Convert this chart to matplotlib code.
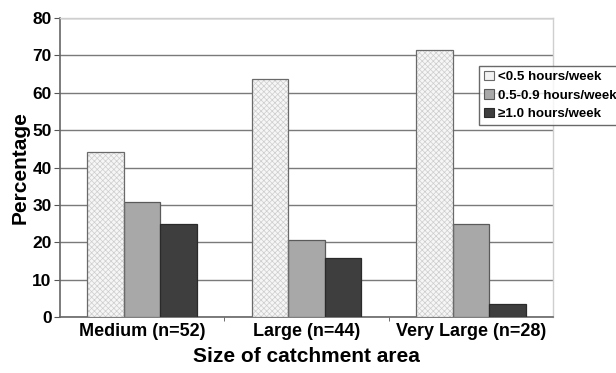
import matplotlib
matplotlib.use("Agg")
import matplotlib.pyplot as plt
from matplotlib.patches import Patch
import numpy as np

plt.rcParams['font.family'] = ['Liberation Sans', 'DejaVu Sans']
plt.rcParams['font.weight'] = 'bold'
plt.rcParams['hatch.linewidth'] = 0.5

categories = ['Medium (n=52)', 'Large (n=44)', 'Very Large (n=28)']
series_names = ['<0.5 hours/week', '0.5-0.9 hours/week', '\u22651.0 hours/week']
low_time = [44.2, 63.6, 71.4]
mid_time = [30.8, 20.5, 25.0]
high_time = [25.0, 15.9, 3.6]
y_ticks = [0, 10, 20, 30, 40, 50, 60, 70, 80]

fig = plt.figure(figsize=(6.16, 3.73), dpi=100)
ax = fig.add_axes([60/616, 1 - 317/373, 493/616, 299/373])

x = np.arange(len(categories))
w = 0.222
lw = 0.9

# light series: fine light-gray crosshatch, then a crisp outline on top
ax.bar(x - w, low_time, width=w, facecolor='#f6f6f6', edgecolor='#cdcdcd',
       hatch='xxxxxx', linewidth=0, zorder=3)
ax.bar(x - w, low_time, width=w, fill=False, edgecolor='#6a6a6a',
       linewidth=lw, zorder=4)
ax.bar(x, mid_time, width=w, facecolor='#a8a8a8', edgecolor='#5a5a5a',
       linewidth=lw, zorder=3)
ax.bar(x + w, high_time, width=w, facecolor='#3e3e3e', edgecolor='#2a2a2a',
       linewidth=lw, zorder=3)

ax.set_xlim(-0.5, 2.5)
ax.set_ylim(0, 80)
ax.set_yticks(y_ticks)
ax.set_yticklabels([str(t) for t in y_ticks], fontsize=12.5, fontweight='bold')
ax.yaxis.grid(True, color='#7a7a7a', linewidth=1.0, zorder=0)
ax.set_axisbelow(True)

ax.set_xticks([0.5, 1.5], minor=True)
ax.set_xticks(x)
ax.set_xticklabels(categories, fontsize=13, fontweight='bold')
ax.tick_params(axis='x', which='major', length=0, pad=4)
ax.tick_params(axis='x', which='minor', length=3, direction='out', color='#555555')
ax.tick_params(axis='y', length=4, direction='out', color='#555555', pad=2)

for side in ['top', 'right']:
    ax.spines[side].set_color('#cfcfcf')
    ax.spines[side].set_linewidth(1.0)
for side in ['left', 'bottom']:
    ax.spines[side].set_color('#666666')
    ax.spines[side].set_linewidth(1.2)

ax.set_ylabel('Percentage', fontsize=15, fontweight='bold', labelpad=2)
ax.set_xlabel('Size of catchment area', fontsize=15, fontweight='bold', labelpad=5)

# legend proxies (plain swatches)
p_low = Patch(facecolor='#f2f2f2', edgecolor='#6a6a6a', linewidth=0.8)
p_mid = Patch(facecolor='#a8a8a8', edgecolor='#5a5a5a', linewidth=0.8)
p_high = Patch(facecolor='#3e3e3e', edgecolor='#2a2a2a', linewidth=0.8)
leg = fig.legend(handles=[p_low, p_mid, p_high], labels=series_names, loc='upper left',
                 bbox_to_anchor=(479/616, 1 - 66/373),
                 prop=dict(size=9.6, weight='bold'), frameon=True, fancybox=False,
                 edgecolor='#444444', borderpad=0.35, labelspacing=0.45,
                 handlelength=0.75, handleheight=0.75, handletextpad=0.3,
                 borderaxespad=0)
leg.get_frame().set_linewidth(1.0)

fig.savefig('out.png', dpi=100)
